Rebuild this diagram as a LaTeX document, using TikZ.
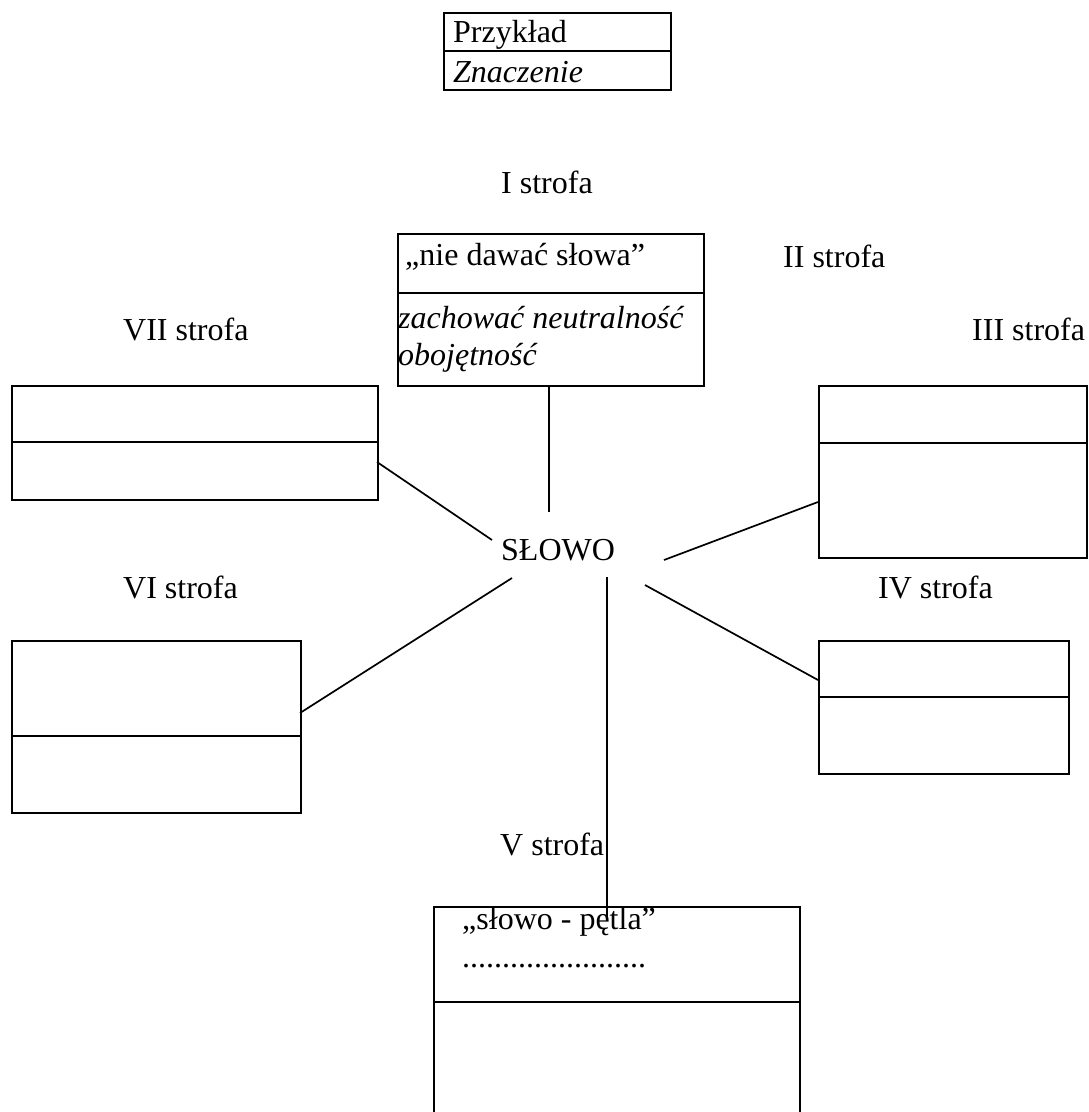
\documentclass[tikz,border=0pt]{standalone}
\usepackage{fontspec}
\setmainfont{Liberation Serif}
\begin{document}
\begin{tikzpicture}[x=1pt,y=-1pt,
  every node/.style={font=\fontsize{32}{38}\selectfont},
  box/.style={draw, line width=2pt, rectangle, anchor=north west, inner sep=0pt},
  divider/.style={line width=2pt},
  link/.style={line width=1.7pt},
  lbl/.style={anchor=base west, inner sep=0pt}]
\useasboundingbox (0,0) rectangle (1088,1112);
\clip (0,0) rectangle (1088,1112);
% legend
\node[box, minimum width=227pt, minimum height=77pt] (leg) at (443,12) {};
\draw[divider] (443,51) -- (670,51);
\node[lbl] (legA) at (453,42) {Przykład};
\node[lbl] (legB) at (453,82) {\itshape Znaczenie};
% labels
\node[lbl] (l1) at (501,193) {I strofa};
\node[lbl] (l2) at (783,267) {II strofa};
\node[lbl] (l7) at (123,340) {VII strofa};
\node[lbl] (l3) at (972,340) {III strofa};
\node[lbl] (l6) at (123,598) {VI strofa};
\node[lbl] (l4) at (878,598) {IV strofa};
\node[lbl] (l5) at (500,855) {V strofa};
% centre
\node[lbl] (slowo) at (501,560) {SŁOWO};
% box I
\node[box, minimum width=306pt, minimum height=152pt] (b1) at (397,233) {};
\draw[divider] (397,293) -- (703,293);
\node[lbl] (t1a) at (405,265) {„nie dawać słowa”};
\node[lbl] (t1b) at (398,328) {\itshape zachować neutralność};
\node[lbl] (t1c) at (398,365) {\itshape obojętność};
% box VII
\node[box, minimum width=366pt, minimum height=114pt] (b7) at (11,385) {};
\draw[divider] (11,442) -- (377,442);
% box III
\node[box, minimum width=268pt, minimum height=172pt] (b3) at (818,385) {};
\draw[divider] (818,443) -- (1086,443);
% box VI
\node[box, minimum width=289pt, minimum height=172pt] (b6) at (11,640) {};
\draw[divider] (11,736) -- (300,736);
% box IV
\node[box, minimum width=250pt, minimum height=133pt] (b4) at (818,640) {};
\draw[divider] (818,697) -- (1068,697);
% box V
\node[box, minimum width=366pt, minimum height=260pt] (b5) at (433,906) {};
\draw[divider] (433,1002) -- (799,1002);
\node[lbl] (t5a) at (462,929) {„słowo - pętla”};
\node[lbl] (t5b) at (462,967) {.......................};
% connector end points
\coordinate (c1a) at (549,385); \coordinate (c1b) at (549,512);
\coordinate (c7a) at (377,462); \coordinate (c7b) at (492,540);
\coordinate (c3a) at (818,502); \coordinate (c3b) at (664,560);
\coordinate (c6a) at (300,713); \coordinate (c6b) at (512,578);
\coordinate (c5a) at (607,918); \coordinate (c5b) at (607,577);
\coordinate (c4a) at (818,680); \coordinate (c4b) at (645,585);
\draw[link] (c1a) -- (c1b);
\draw[link] (c7a) -- (c7b);
\draw[link] (c3a) -- (c3b);
\draw[link] (c6a) -- (c6b);
\draw[link] (c5a) -- (c5b);
\draw[link] (c4a) -- (c4b);
\end{tikzpicture}
\end{document}
